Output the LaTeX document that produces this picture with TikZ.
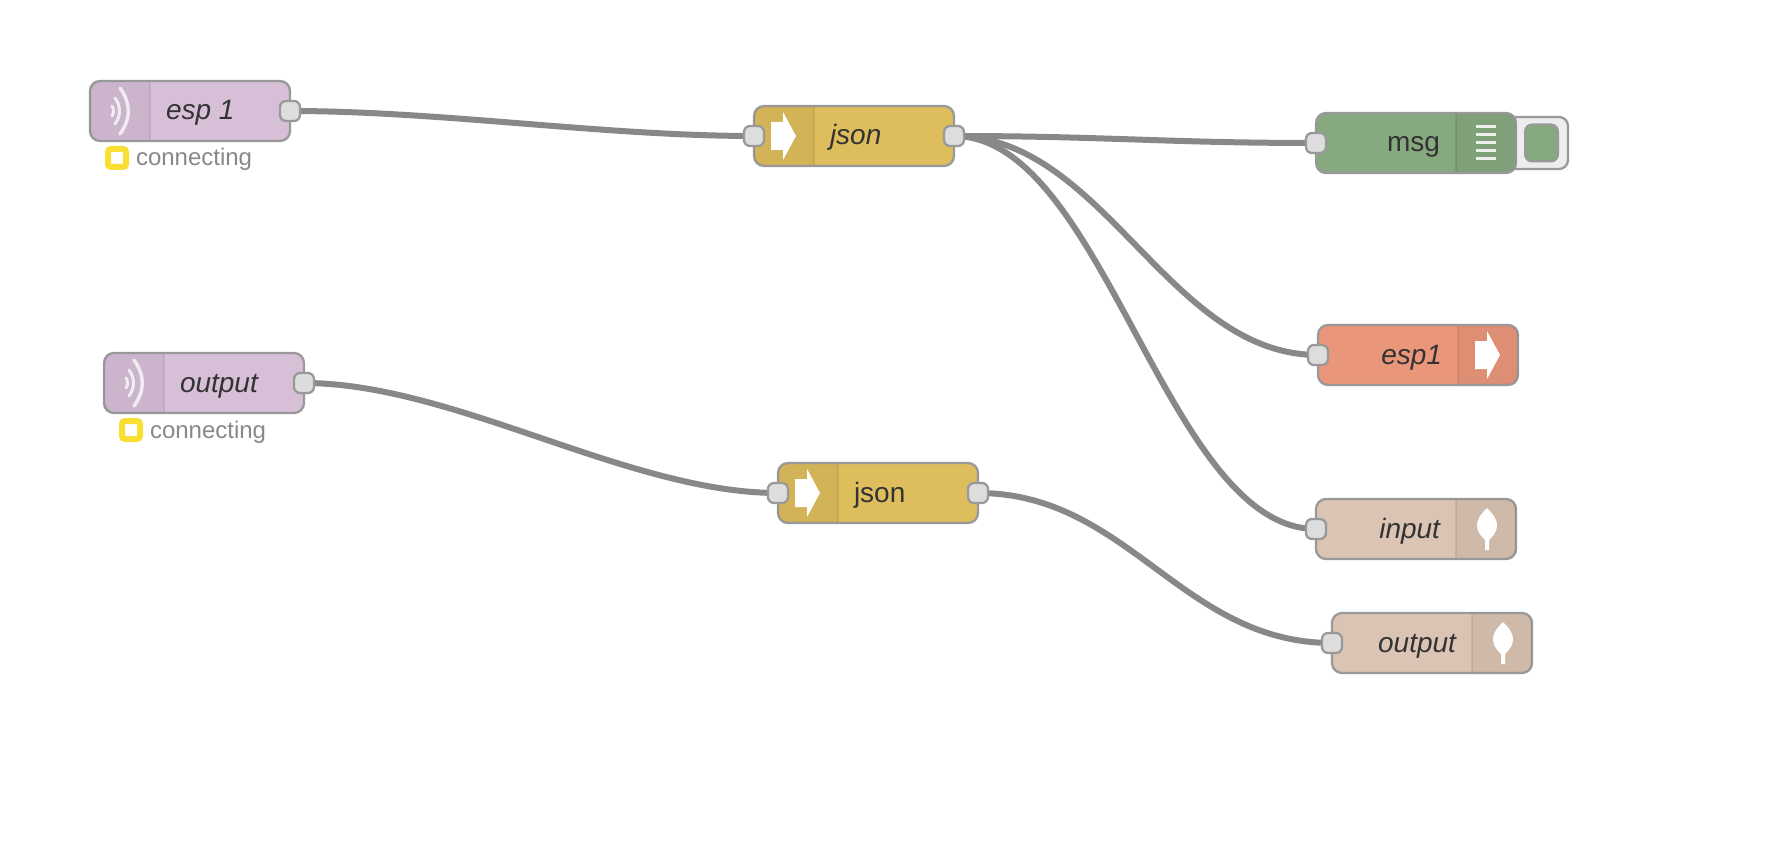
\documentclass[tikz,border=0pt]{standalone}
\usepackage{fontspec}
\setmainfont{Liberation Sans}
\usetikzlibrary{backgrounds}
\definecolor{wire}{HTML}{888888}
\definecolor{edge}{HTML}{999999}
\definecolor{portfill}{HTML}{DDDDDD}
\definecolor{txt}{HTML}{333333}
\definecolor{cpurple}{HTML}{D8BFD8}
\definecolor{cyellow}{HTML}{DEBD5C}
\definecolor{cgreen}{HTML}{87A980}
\definecolor{csalmon}{HTML}{E9967A}
\definecolor{ctan}{HTML}{DBC4B3}
\definecolor{cstatus}{HTML}{F9DF31}
\tikzset{
  x=1pt,y=-1pt,
  nodebody/.style={rectangle,draw=edge,line width=2.3pt,rounded corners=10pt,minimum width=200pt,minimum height=60pt,inner sep=0pt,outer sep=0pt},
  port/.style={rectangle,draw=edge,fill=portfill,line width=2.3pt,rounded corners=6pt,minimum size=20pt,inner sep=0pt,outer sep=0pt},
  flow/.style={draw=wire,line width=6pt},
  lab/.style={inner sep=0pt,outer sep=0pt,text=txt,font=\fontsize{28}{32}\selectfont},
  statuslab/.style={inner sep=0pt,outer sep=0pt,text=wire,font=\fontsize{24}{28}\selectfont,anchor=base west},
  iconfill/.style={fill=white,draw=none},
  iconline/.style={draw=white,line cap=round},
  statusbox/.style={rectangle,draw=cstatus,fill=white,line width=6pt,rounded corners=3pt,minimum size=18pt,inner sep=0pt,outer sep=0pt},
}
% name, x, centre y, fill, shade start (0 or 140), divider x
\newcommand{\flowbody}[6]{%
  \node[nodebody,fill=#4] (#1) at (#2+100,#3) {};
  \begin{scope}[shift={(#2,#3)}]
    \begin{scope}
      \clip[rounded corners=10pt] (0,-29) rectangle (200,29);
      \fill[black,opacity=.05] (#5,-30) rectangle ++(60,60);
    \end{scope}
    \draw[black,opacity=.08,line width=1.6pt] (#6,-29) -- (#6,29);
  \end{scope}}
\newcommand{\arrowicon}[2]{%
  \fill[iconfill,shift={(#1,#2)}] (-1,-14) -- (11,-14) -- (11,-24) -- (24,0) -- (11,24) -- (11,14) -- (-1,14) -- cycle;}
\newcommand{\leaficon}[2]{%
  \fill[iconfill,shift={(#1,#2)}] (0,-21) .. controls (5,-16) and (10,-11) .. (10,-3) .. controls (10,3) and (5,8) .. (2,11) -- (2,21) -- (-2,21) -- (-2,11) .. controls (-5,8) and (-10,3) .. (-10,-3) .. controls (-10,-11) and (-5,-16) .. (0,-21) -- cycle;}
\newcommand{\radioicon}[2]{%
  \begin{scope}[shift={(#1,#2)}]
    \draw[iconline,line width=3pt,opacity=.75] (0,-5) .. controls (2,-2) and (2,2) .. (0,5);
    \draw[iconline,line width=3pt,opacity=.75] (3,-13) .. controls (9,-5) and (9,5) .. (3,13);
    \draw[iconline,line width=3.4pt,opacity=.75] (8,-23) .. controls (19,-8) and (19,8) .. (8,23);
  \end{scope}}
\begin{document}
\begin{tikzpicture}
\useasboundingbox (0,0) rectangle (1768,842);

% inject node (msg debug button)
\node[rectangle,draw=edge,fill=black!7,line width=2.3pt,rounded corners=9pt,minimum width=60pt,minimum height=52pt,inner sep=0pt] (btn) at (1538,143) {};
\node[rectangle,draw=edge,fill=cgreen,line width=2pt,rounded corners=7pt,minimum width=33pt,minimum height=37pt,inner sep=0pt] (btnin) at (1541.5,143) {};

% esp 1
\flowbody{a}{90}{111}{cpurple}{0}{60}
\radioicon{112}{111}
\node[lab,anchor=base west] (alab) at (166,120) {\itshape esp 1};
\node[port] (aout) at (290,111) {};
\node[statusbox] (ast) at (117,158) {};
\node[statuslab] (ast2) at (136,166) {connecting};

% output (source)
\flowbody{b}{104}{383}{cpurple}{0}{60}
\radioicon{126}{383}
\node[lab,anchor=base west] (blab) at (180,392) {\itshape output};
\node[port] (bout) at (304,383) {};
\node[statusbox] (bst) at (131,430) {};
\node[statuslab] (bst2) at (150,438) {connecting};

% json 1
\flowbody{c}{754}{136}{cyellow}{0}{60}
\arrowicon{772}{136}
\node[lab,anchor=base west] (clab) at (830,145) {\itshape json};
\node[port] (cin) at (754,136) {};
\node[port] (cout) at (954,136) {};

% json 2
\flowbody{d}{778}{493}{cyellow}{0}{60}
\arrowicon{796}{493}
\node[lab,anchor=base west] (dlab) at (854,502) {json};
\node[port] (din) at (778,493) {};
\node[port] (dout) at (978,493) {};

% msg
\flowbody{e}{1316}{143}{cgreen}{140}{140}
\foreach \yy in {127,135,143,151,159}{\draw[draw=white,line width=3pt,opacity=.85] (1476,\yy) -- (1496,\yy);}
\node[lab,anchor=base east] (elab) at (1440,152) {msg};
\node[port] (ein) at (1316,143) {};

% esp1
\flowbody{f}{1318}{355}{csalmon}{140}{140}
\arrowicon{1476}{355}
\node[lab,anchor=base east] (flab) at (1442,364) {\itshape esp1};
\node[port] (fin) at (1318,355) {};

% input
\flowbody{g}{1316}{529}{ctan}{140}{140}
\leaficon{1487}{529}
\node[lab,anchor=base east] (glab) at (1440,538) {\itshape input};
\node[port] (gin) at (1316,529) {};

% output (sink)
\flowbody{h}{1332}{643}{ctan}{140}{140}
\leaficon{1503}{643}
\node[lab,anchor=base east] (hlab) at (1456,652) {\itshape output};
\node[port] (hin) at (1332,643) {};

\begin{scope}[on background layer]
\fill[white] (0,0) rectangle (1768,842);
\draw[flow] (aout.center) .. controls +(150,0) and +(-150,0) .. (cin.center);
\draw[flow] (bout.center) .. controls +(150,0) and +(-150,0) .. (din.center);
\draw[flow] (cout.center) .. controls +(150,0) and +(-150,0) .. (ein.center);
\draw[flow] (cout.center) .. controls +(150,0) and +(-150,0) .. (fin.center);
\draw[flow] (cout.center) .. controls +(150,0) and +(-150,0) .. (gin.center);
\draw[flow] (dout.center) .. controls +(150,0) and +(-150,0) .. (hin.center);
\end{scope}
\end{tikzpicture}
\end{document}
